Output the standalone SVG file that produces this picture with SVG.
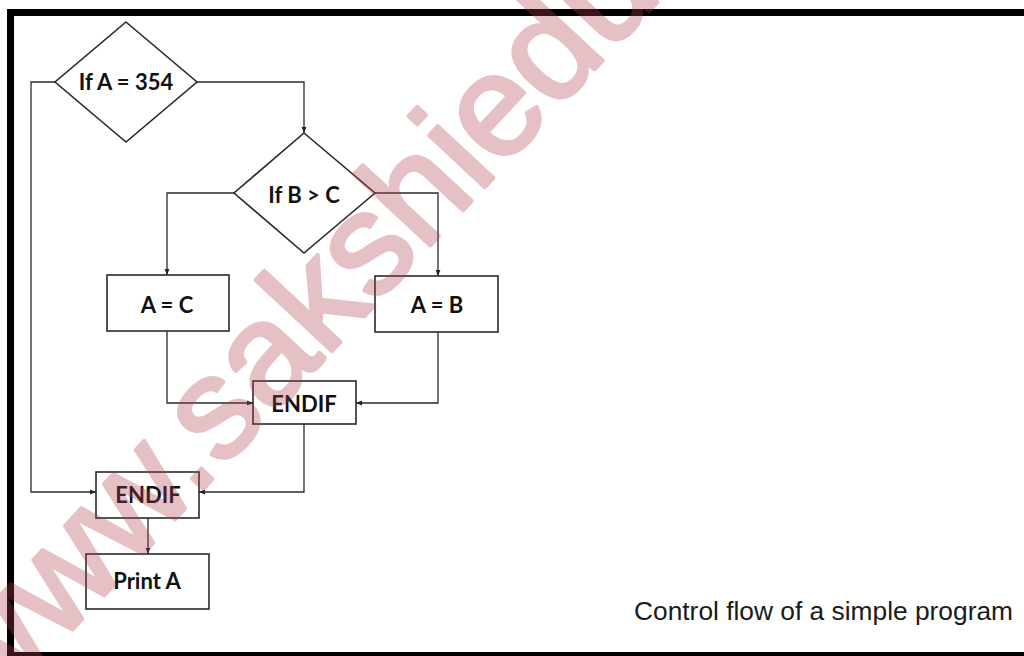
<svg xmlns="http://www.w3.org/2000/svg" width="1024" height="656" viewBox="0 0 1024 656">
  <defs>
    <marker id="arr" viewBox="0 0 10 10" refX="10" refY="5" markerWidth="6" markerHeight="6" markerUnits="userSpaceOnUse" orient="auto">
      <path d="M0,1 L10,5 L0,9 Z" fill="#222"/>
    </marker>
    <style>
      .shape { fill: none; stroke: #2a2a2a; stroke-width: 1.6; }
      .conn { fill: none; stroke: #2a2a2a; stroke-width: 1.3; marker-end: url(#arr); }
      .lbl { font-family: Lato, "Open Sans", "Liberation Sans", sans-serif; font-weight: bold; font-size: 22px; fill: #111; text-anchor: middle; }
      .cap { font-family: "Liberation Sans", Arial, sans-serif; font-size: 25px; fill: #1a1a1a; }
      .wm { font-family: "Liberation Sans", Arial, sans-serif; font-size: 144px; fill: #b04050; stroke: #b04050; stroke-width: 4; stroke-linejoin: round; opacity: 0.32; }
    </style>
  </defs>
  <rect x="0" y="0" width="1024" height="656" fill="#ffffff"/>
  <path d="M1030,12.5 H10.5 V655.5 H1030" fill="none" stroke="#000" stroke-width="7"/>

  <g id="connectors">
    <path class="conn" d="M55,82 H31 V492 H96"/>
    <path class="conn" d="M197,82 H304 V133"/>
    <path class="conn" d="M234,193 H167 V275"/>
    <path class="conn" d="M375,193 H438 V276"/>
    <path class="conn" d="M167,331 V403 H253"/>
    <path class="conn" d="M438,332 V403 H356"/>
    <path class="conn" d="M304,424 V492 H199"/>
    <path class="conn" d="M148,518 V554"/>
  </g>

  <g id="decision-a">
    <polygon class="shape" points="126,22 197,82 126,142 55,82"/>
    <text class="lbl" x="126" y="90">If A = 354</text>
  </g>
  <g id="decision-b">
    <polygon class="shape" points="304,133 375,193 304,253 234,193"/>
    <text class="lbl" x="304" y="203">If B &gt; C</text>
  </g>
  <g id="assign-ac">
    <rect class="shape" x="107" y="275" width="122" height="56"/>
    <text class="lbl" x="167" y="313">A = C</text>
  </g>
  <g id="assign-ab">
    <rect class="shape" x="375" y="276" width="123" height="56"/>
    <text class="lbl" x="437" y="313">A = B</text>
  </g>
  <g id="endif-inner">
    <rect class="shape" x="253" y="381" width="103" height="43"/>
    <text class="lbl" x="304" y="412">ENDIF</text>
  </g>
  <g id="endif-outer">
    <rect class="shape" x="96" y="472" width="103" height="46"/>
    <text class="lbl" x="148" y="503">ENDIF</text>
  </g>
  <g id="print-a">
    <rect class="shape" x="86" y="554" width="123" height="55"/>
    <text class="lbl" x="147" y="589">Print A</text>
  </g>

  <text class="cap" x="634" y="620" textLength="379" lengthAdjust="spacingAndGlyphs">Control flow of a simple program</text>

  <text class="wm" transform="translate(-13,721) rotate(-47)" x="0" y="0">www.sakshieducation.com</text>
</svg>
